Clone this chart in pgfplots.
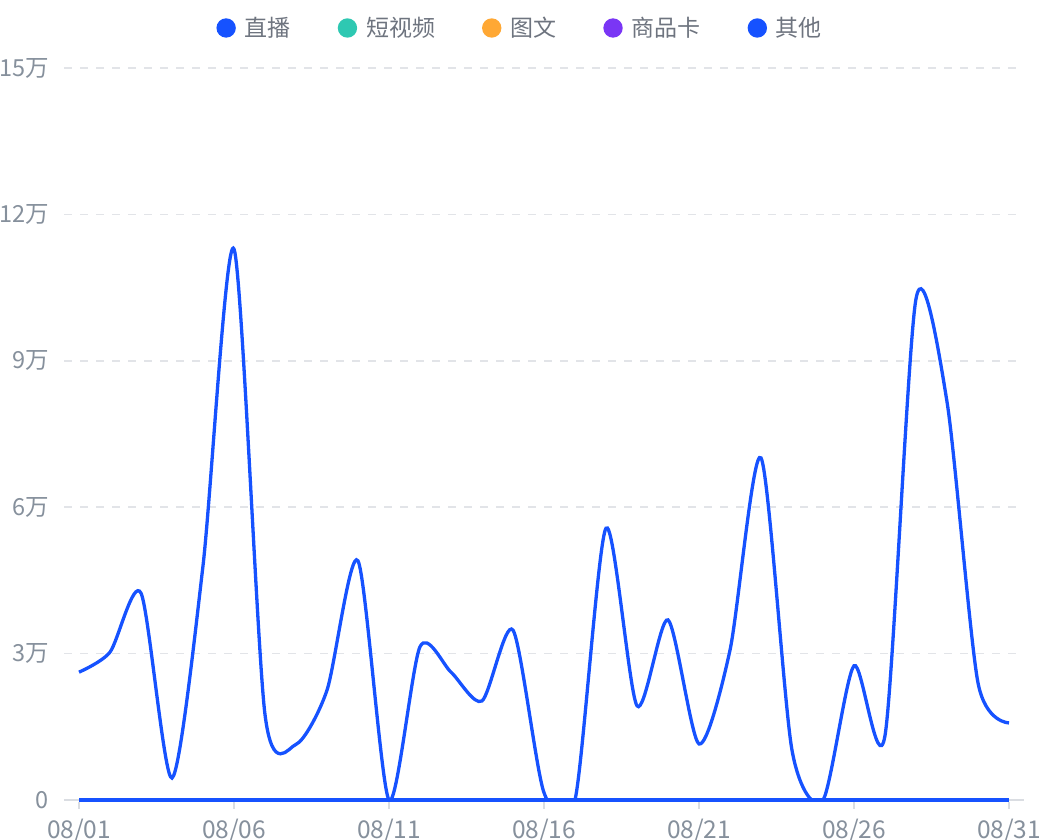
\documentclass[border=0pt]{standalone}
\usepackage{fontspec}
\setmainfont{Noto Sans CJK SC}
\usepackage{pgfplots}
\pgfplotsset{compat=1.18}
\usepackage{pgfplotstable}
\definecolor{cblue}{RGB}{22,82,255}
\definecolor{cteal}{RGB}{46,200,178}
\definecolor{corange}{RGB}{255,168,52}
\definecolor{cpurple}{RGB}{122,54,245}
\definecolor{gridc}{RGB}{226,228,232}
\definecolor{axisc}{RGB}{218,221,226}
\definecolor{tickc}{RGB}{134,144,156}
\definecolor{legc}{RGB}{110,116,127}
\pgfplotstableread{
x y
0 26200
1 30300
2 42400
3 4500
4 48000
5 112900
6 17500
7 11400
8 22500
9 49000
10 0
11 31400
12 26200
13 20300
14 34800
15 1500
16 0
17 55700
18 19300
19 36900
20 11500
21 30700
22 70100
23 10200
24 0
25 27500
26 13200
27 102700
28 81600
29 24000
30 15800
}\live
\pgfplotstableread{
x y
0 0
1 0
2 0
3 0
4 0
5 0
6 0
7 0
8 0
9 0
10 0
11 0
12 0
13 0
14 0
15 0
16 0
17 0
18 0
19 0
20 0
21 0
22 0
23 0
24 0
25 0
26 0
27 0
28 0
29 0
30 0
}\zero
\begin{document}
\begin{tikzpicture}
\useasboundingbox (0,0) rectangle (1040bp,840bp);
\begin{axis}[
  at={(64bp,38.05bp)}, anchor=south west,
  scale only axis, width=960bp, height=733.95bp,
  xmin=-0.48387, xmax=30.48387, ymin=-400, ymax=150000,
  axis line style={draw=none},
  scaled y ticks=false, scaled x ticks=false,
  xtick={0,5,...,30},
  xticklabels={08/01,08/06,08/11,08/16,08/21,08/26,08/31},
  ytick={30000,60000,90000,120000,150000},
  yticklabels={3万,6万,9万,12万,15万},
  extra y ticks={0}, extra y tick labels={0},
  ymajorgrids,
  major grid style={draw=gridc, dash pattern=on 8bp off 8bp, line width=1.5bp},
  extra y tick style={major grid style={solid, draw=axisc, line width=1.5bp}, tick style={draw=none}},
  tick align=outside, major tick length=7bp,
  xtick pos=lower,
  xtick style={draw=axisc, line width=1.5bp},
  ytick style={draw=none},
  ticklabel style={font=\fontsize{24.5bp}{29bp}\selectfont, text=tickc},
  yticklabel style={font=\fontsize{23.5bp}{28bp}\selectfont, inner sep=0pt, anchor=east, xshift=-8bp},
  xticklabel style={inner sep=0pt, anchor=base, yshift=-30bp},
  legend columns=5,
  legend cell align=left,
  legend image code/.code={\fill (0bp,0bp) circle (8bp);},
  legend style={at={(0.4742,1)}, anchor=center, yshift=40bp, draw=none, fill=none,
    inner sep=0pt, outer sep=0pt, nodes={inner sep=0pt},
    font=\fontsize{23bp}{28bp}\selectfont, text=legc,
    column sep=9bp, /tikz/every even column/.append style={column sep=47bp}},
]
\addplot[cblue, line width=3.3bp, smooth, tension=0.45] table[x=x,y=y]{\live};
\addlegendentry{直播}
\addplot[cteal, line width=3.3bp] table[x=x,y=y]{\zero};
\addlegendentry{短视频}
\addplot[corange, line width=3.3bp] table[x=x,y=y]{\zero};
\addlegendentry{图文}
\addplot[cpurple, line width=3.3bp] table[x=x,y=y]{\zero};
\addlegendentry{商品卡}
\addplot[cblue, line width=3.3bp] table[x=x,y=y]{\zero};
\addlegendentry{其他}
\end{axis}
\end{tikzpicture}
\end{document}
